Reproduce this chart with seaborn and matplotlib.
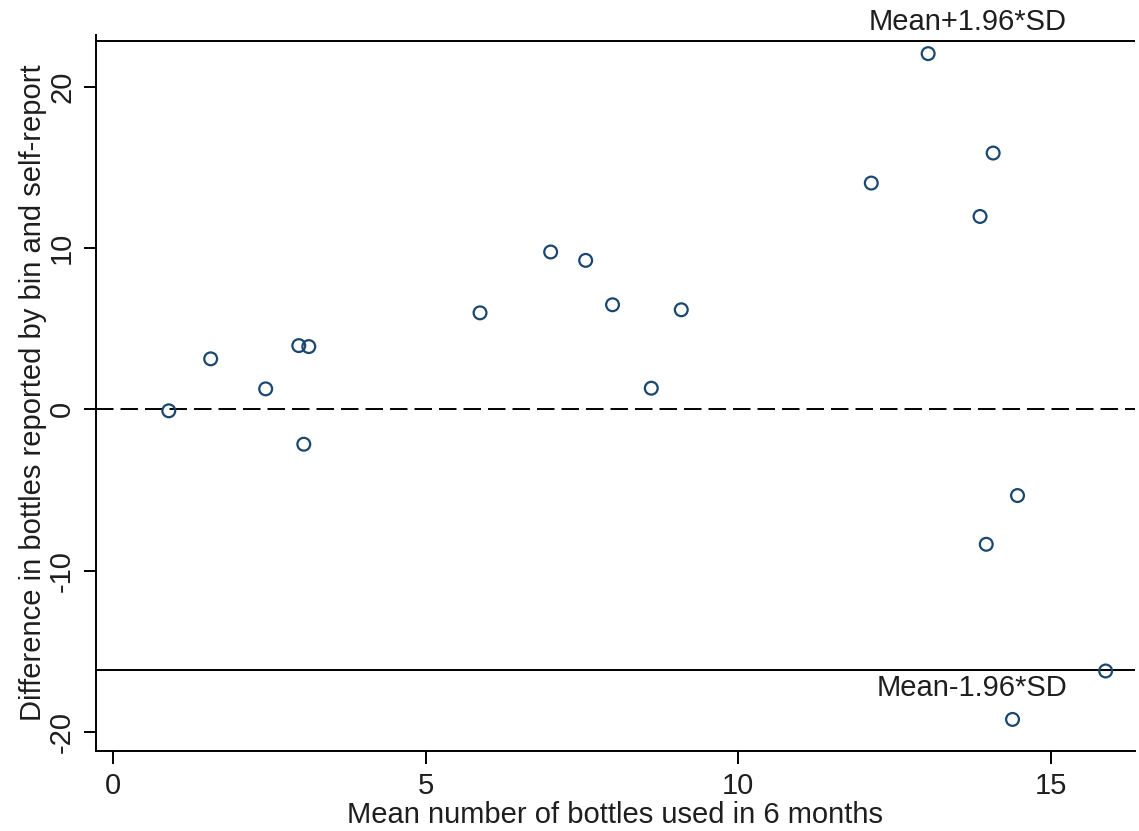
import matplotlib
matplotlib.use("Agg")
import matplotlib.pyplot as plt
import seaborn as sns
import pandas as pd

# Mean of the two measures (x) and their difference (y), one value per household
mean_bottles = [0.89, 1.56, 2.44, 2.97, 3.13, 3.05, 5.87, 7.00, 7.56, 7.99,
                9.09, 8.61, 12.13, 13.04, 14.08, 13.87, 14.47, 13.97, 15.88, 14.39]
diff_bottles = [-0.09, 3.13, 1.27, 3.95, 3.89, -2.16, 5.98, 9.75, 9.23, 6.48,
                6.17, 1.31, 14.02, 22.04, 15.88, 11.95, -5.34, -8.36, -16.21, -19.21]

# Limits of agreement
upper_loa = 22.8
lower_loa = -16.15
upper_label = "Mean+1.96*SD"
lower_label = "Mean-1.96*SD"

x_ticks = [0, 5, 10, 15]
y_ticks = [-20, -10, 0, 10, 20]

df = pd.DataFrame({"mean": mean_bottles, "diff": diff_bottles})

sns.set_theme(style="white")
plt.rcParams["font.family"] = ["Liberation Sans", "DejaVu Sans"]

FS = 21
TXT = "#1e1e1e"

fig = plt.figure(figsize=(11.39, 8.31), dpi=100)
ax = fig.add_axes([0.084, 0.0966, 0.9125, 0.8614])

navy = "#1a476f"
sns.scatterplot(data=df, x="mean", y="diff", ax=ax, marker="o", s=85,
                facecolor="none", edgecolor=navy, linewidth=1.6, zorder=3)

ax.axhline(upper_loa, color="black", lw=1.4, zorder=2)
ax.axhline(lower_loa, color="black", lw=1.4, zorder=2)
ax.axhline(0, color="black", lw=1.4, linestyle=(0, (9, 3.6)), zorder=2)

ax.text(15.26, upper_loa + 0.35, upper_label, ha="right", va="bottom",
        fontsize=FS, color=TXT, clip_on=False)
ax.text(15.26, lower_loa - 0.25, lower_label, ha="right", va="top",
        fontsize=FS, color=TXT)

ax.set_xlim(-0.28, 16.35)
ax.set_ylim(-21.15, 23.2)
ax.set_xticks(x_ticks)
ax.set_yticks(y_ticks)
ax.set_xticklabels([str(t) for t in x_ticks])
ax.set_yticklabels([str(t) for t in y_ticks], rotation=90, va="center")

for side in ["top", "right"]:
    ax.spines[side].set_visible(False)
for side in ["left", "bottom"]:
    ax.spines[side].set_color("black")
    ax.spines[side].set_linewidth(1.4)

ax.tick_params(axis="both", which="major", length=9, width=1.4, color="black",
               labelsize=FS, labelcolor=TXT, left=True, bottom=True)
ax.tick_params(axis="x", pad=6)
ax.tick_params(axis="y", pad=5)

ax.set_xlabel("Mean number of bottles used in 6 months", fontsize=FS,
              color=TXT, labelpad=1)
ax.set_ylabel("Difference in bottles reported by bin and self-report",
              fontsize=FS, color=TXT, labelpad=1)

fig.savefig("out.png", dpi=100, facecolor="white")
